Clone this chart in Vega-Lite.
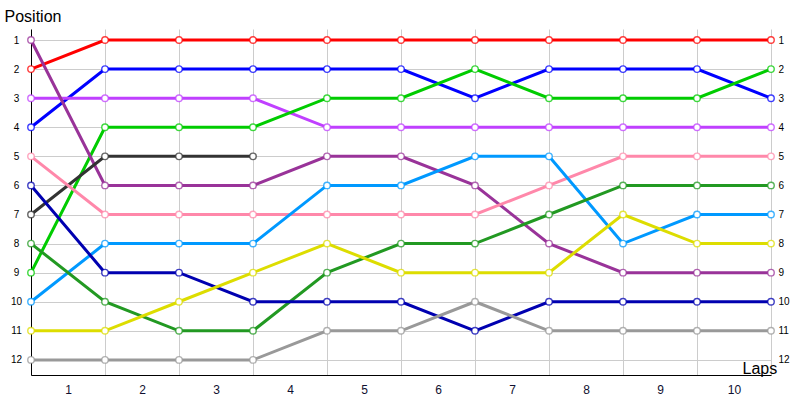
{
  "$schema": "https://vega.github.io/schema/vega-lite/v6.json",
  "autosize": "none",
  "width": 740,
  "height": 346,
  "padding": {"left": 31, "top": 29, "right": 29, "bottom": 25},
  "background": "white",
  "config": {"view": {"stroke": null}, "font": "Liberation Sans"},
  "datasets": {
    "race": [
      {"d":"Red","lap":0,"pos":2},{"d":"Red","lap":1,"pos":1},{"d":"Red","lap":2,"pos":1},{"d":"Red","lap":3,"pos":1},{"d":"Red","lap":4,"pos":1},{"d":"Red","lap":5,"pos":1},{"d":"Red","lap":6,"pos":1},{"d":"Red","lap":7,"pos":1},{"d":"Red","lap":8,"pos":1},{"d":"Red","lap":9,"pos":1},{"d":"Red","lap":10,"pos":1},
      {"d":"Blue","lap":0,"pos":4},{"d":"Blue","lap":1,"pos":2},{"d":"Blue","lap":2,"pos":2},{"d":"Blue","lap":3,"pos":2},{"d":"Blue","lap":4,"pos":2},{"d":"Blue","lap":5,"pos":2},{"d":"Blue","lap":6,"pos":3},{"d":"Blue","lap":7,"pos":2},{"d":"Blue","lap":8,"pos":2},{"d":"Blue","lap":9,"pos":2},{"d":"Blue","lap":10,"pos":3},
      {"d":"Violet","lap":0,"pos":3},{"d":"Violet","lap":1,"pos":3},{"d":"Violet","lap":2,"pos":3},{"d":"Violet","lap":3,"pos":3},{"d":"Violet","lap":4,"pos":4},{"d":"Violet","lap":5,"pos":4},{"d":"Violet","lap":6,"pos":4},{"d":"Violet","lap":7,"pos":4},{"d":"Violet","lap":8,"pos":4},{"d":"Violet","lap":9,"pos":4},{"d":"Violet","lap":10,"pos":4},
      {"d":"Green","lap":0,"pos":9},{"d":"Green","lap":1,"pos":4},{"d":"Green","lap":2,"pos":4},{"d":"Green","lap":3,"pos":4},{"d":"Green","lap":4,"pos":3},{"d":"Green","lap":5,"pos":3},{"d":"Green","lap":6,"pos":2},{"d":"Green","lap":7,"pos":3},{"d":"Green","lap":8,"pos":3},{"d":"Green","lap":9,"pos":3},{"d":"Green","lap":10,"pos":2},
      {"d":"Purple","lap":0,"pos":1},{"d":"Purple","lap":1,"pos":6},{"d":"Purple","lap":2,"pos":6},{"d":"Purple","lap":3,"pos":6},{"d":"Purple","lap":4,"pos":5},{"d":"Purple","lap":5,"pos":5},{"d":"Purple","lap":6,"pos":6},{"d":"Purple","lap":7,"pos":8},{"d":"Purple","lap":8,"pos":9},{"d":"Purple","lap":9,"pos":9},{"d":"Purple","lap":10,"pos":9},
      {"d":"Black","lap":0,"pos":7},{"d":"Black","lap":1,"pos":5},{"d":"Black","lap":2,"pos":5},{"d":"Black","lap":3,"pos":5},
      {"d":"Pink","lap":0,"pos":5},{"d":"Pink","lap":1,"pos":7},{"d":"Pink","lap":2,"pos":7},{"d":"Pink","lap":3,"pos":7},{"d":"Pink","lap":4,"pos":7},{"d":"Pink","lap":5,"pos":7},{"d":"Pink","lap":6,"pos":7},{"d":"Pink","lap":7,"pos":6},{"d":"Pink","lap":8,"pos":5},{"d":"Pink","lap":9,"pos":5},{"d":"Pink","lap":10,"pos":5},
      {"d":"SkyBlue","lap":0,"pos":10},{"d":"SkyBlue","lap":1,"pos":8},{"d":"SkyBlue","lap":2,"pos":8},{"d":"SkyBlue","lap":3,"pos":8},{"d":"SkyBlue","lap":4,"pos":6},{"d":"SkyBlue","lap":5,"pos":6},{"d":"SkyBlue","lap":6,"pos":5},{"d":"SkyBlue","lap":7,"pos":5},{"d":"SkyBlue","lap":8,"pos":8},{"d":"SkyBlue","lap":9,"pos":7},{"d":"SkyBlue","lap":10,"pos":7},
      {"d":"DarkGreen","lap":0,"pos":8},{"d":"DarkGreen","lap":1,"pos":10},{"d":"DarkGreen","lap":2,"pos":11},{"d":"DarkGreen","lap":3,"pos":11},{"d":"DarkGreen","lap":4,"pos":9},{"d":"DarkGreen","lap":5,"pos":8},{"d":"DarkGreen","lap":6,"pos":8},{"d":"DarkGreen","lap":7,"pos":7},{"d":"DarkGreen","lap":8,"pos":6},{"d":"DarkGreen","lap":9,"pos":6},{"d":"DarkGreen","lap":10,"pos":6},
      {"d":"Navy","lap":0,"pos":6},{"d":"Navy","lap":1,"pos":9},{"d":"Navy","lap":2,"pos":9},{"d":"Navy","lap":3,"pos":10},{"d":"Navy","lap":4,"pos":10},{"d":"Navy","lap":5,"pos":10},{"d":"Navy","lap":6,"pos":11},{"d":"Navy","lap":7,"pos":10},{"d":"Navy","lap":8,"pos":10},{"d":"Navy","lap":9,"pos":10},{"d":"Navy","lap":10,"pos":10},
      {"d":"Yellow","lap":0,"pos":11},{"d":"Yellow","lap":1,"pos":11},{"d":"Yellow","lap":2,"pos":10},{"d":"Yellow","lap":3,"pos":9},{"d":"Yellow","lap":4,"pos":8},{"d":"Yellow","lap":5,"pos":9},{"d":"Yellow","lap":6,"pos":9},{"d":"Yellow","lap":7,"pos":9},{"d":"Yellow","lap":8,"pos":7},{"d":"Yellow","lap":9,"pos":8},{"d":"Yellow","lap":10,"pos":8},
      {"d":"Gray","lap":0,"pos":12},{"d":"Gray","lap":1,"pos":12},{"d":"Gray","lap":2,"pos":12},{"d":"Gray","lap":3,"pos":12},{"d":"Gray","lap":4,"pos":11},{"d":"Gray","lap":5,"pos":11},{"d":"Gray","lap":6,"pos":10},{"d":"Gray","lap":7,"pos":11},{"d":"Gray","lap":8,"pos":11},{"d":"Gray","lap":9,"pos":11},{"d":"Gray","lap":10,"pos":11}
    ]
  },
  "resolve": {"axis": {"x": "independent", "y": "independent"}},
  "layer": [
    {
      "data": {"name": "race"},
      "mark": {"type": "line", "strokeWidth": 3, "interpolate": "linear"},
      "encoding": {
        "x": {
          "field": "lap", "type": "quantitative",
          "scale": {"domain": [0, 10], "nice": false, "zero": false},
          "axis": {
            "values": [0,0.5,1,1.5,2,2.5,3,3.5,4,4.5,5,5.5,6,6.5,7,7.5,8,8.5,9,9.5,10],
            "grid": true, "gridColor": "#cccccc", "gridWidth": 1,
            "gridOpacity": {"condition": {"test": "datum.value % 1 !== 0", "value": 0}, "value": 1},
            "ticks": false, "domain": true, "domainColor": "#000000", "domainWidth": 1,
            "labelExpr": "datum.value % 1 === 0.5 ? '' + (datum.value + 0.5) : ''",
            "labelFont": "Liberation Sans", "labelFontSize": 12, "labelColor": "#101030",
            "labelPadding": 9, "labelBaseline": "top", "labelAlign": "center",
            "labelOverlap": false, "labelFlush": false,
            "title": "Laps", "titleFont": "Liberation Sans", "titleFontSize": 16, "titleFontWeight": "normal",
            "titleColor": "#000000", "titleAnchor": null, "titleX": 711, "titleY": -2,
            "titleAlign": "left", "titleBaseline": "alphabetic", "titleAngle": 0
          }
        },
        "y": {
          "field": "pos", "type": "quantitative",
          "scale": {"domain": [0.62, 12.52], "reverse": true, "nice": false, "zero": false},
          "axis": {
            "values": [1,2,3,4,5,6,7,8,9,10,11,12],
            "grid": true, "gridColor": "#cccccc", "gridWidth": 1,
            "ticks": false, "domain": true, "domainColor": "#000000", "domainWidth": 1,
            "labelFont": "Liberation Sans", "labelFontSize": 10, "labelColor": "#000000",
            "labelAlign": "center", "labelPadding": 15, "labelBaseline": "middle",
            "labelOverlap": false, "labelFlush": false,
            "title": "Position", "titleFont": "Liberation Sans", "titleFontSize": 16, "titleFontWeight": "normal",
            "titleColor": "#000000", "titleAngle": 0, "titleAnchor": null, "titleX": -27, "titleY": -8,
            "titleAlign": "left", "titleBaseline": "alphabetic"
          }
        },
        "color": {
          "field": "d", "type": "nominal", "legend": null,
          "scale": {
            "domain": ["Red","Blue","Violet","Green","Purple","Black","Pink","SkyBlue","DarkGreen","Navy","Yellow","Gray"],
            "range": ["#ff0000","#0000ff","#c040ff","#00cc00","#993399","#333333","#ff88aa","#0099ff","#229922","#0000b0","#dddd00","#999999"]
          }
        },
        "order": {"field": "lap", "type": "quantitative"}
      }
    },
    {
      "data": {"name": "race"},
      "mark": {"type": "point", "shape": "circle", "filled": false, "fill": "white", "fillOpacity": 1, "size": 42, "strokeWidth": 1.4, "strokeOpacity": 0.75},
      "encoding": {
        "x": {"field": "lap", "type": "quantitative", "axis": null},
        "y": {
          "field": "pos", "type": "quantitative",
          "axis": {
            "orient": "right", "values": [1,2,3,4,5,6,7,8,9,10,11,12],
            "grid": false, "ticks": false, "domain": false,
            "labelFont": "Liberation Sans", "labelFontSize": 10, "labelColor": "#000000",
            "labelAlign": "left", "labelPadding": 7, "labelBaseline": "middle",
            "labelOverlap": false, "labelFlush": false, "title": null
          }
        },
        "color": {"field": "d", "type": "nominal", "legend": null}
      }
    },
    {
      "mark": {"type": "rule", "color": "#000000", "strokeWidth": 1},
      "encoding": {
        "x": {"datum": 0, "type": "quantitative", "axis": null},
        "y": {"datum": 0.45, "type": "quantitative", "axis": null},
        "y2": {"datum": 0.62}
      }
    },
    {
      "mark": {"type": "rule", "color": "#000000", "strokeWidth": 1},
      "encoding": {
        "x": {"datum": 10, "type": "quantitative", "axis": null},
        "x2": {"datum": 10.06},
        "y": {"datum": 12.52, "type": "quantitative", "axis": null}
      }
    },
    {
      "mark": {"type": "point", "shape": "circle", "filled": true, "color": "#000000", "size": 10, "opacity": 1},
      "encoding": {
        "x": {"datum": 0, "type": "quantitative", "axis": null},
        "y": {"datum": 0.45, "type": "quantitative", "axis": null}
      }
    },
    {
      "mark": {"type": "point", "shape": "circle", "filled": true, "color": "#000000", "size": 8, "opacity": 1},
      "encoding": {
        "x": {"datum": 0, "type": "quantitative", "axis": null},
        "y": {"datum": 12.52, "type": "quantitative", "axis": null}
      }
    },
    {
      "mark": {"type": "point", "shape": "M-1,-0.45L1,0L-1,0.45L-0.55,0Z", "filled": true, "color": "#000000", "size": 60, "opacity": 1},
      "encoding": {
        "x": {"datum": 10.05, "type": "quantitative", "axis": null},
        "y": {"datum": 12.52, "type": "quantitative", "axis": null}
      }
    }
  ]
}
